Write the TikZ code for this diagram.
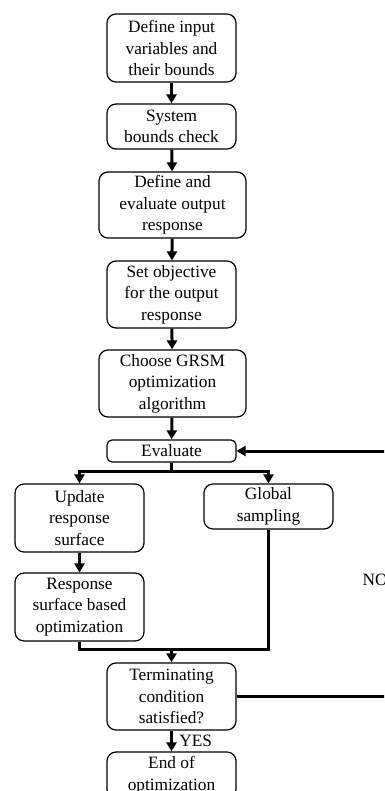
\documentclass[tikz,border=0pt]{standalone}
\usepackage{fontspec}
\setmainfont{Liberation Serif}
\usetikzlibrary{arrows.meta, positioning}

\begin{document}
\begin{tikzpicture}[x=1pt, y=-1pt,% pixel units, y down
         > = {Triangle[width=10pt,length=9pt]}, % defined in "arrows.meta
box/.style = {draw, line width=1.2pt, rounded corners=9pt,
              minimum width=129pt, inner sep=2pt, align=center,
              font=\fontsize{17.3}{21.5}\selectfont},
wide/.style = {box, minimum width=147pt},
flow/.style = {->, line width=3pt},
line/.style = {line width=3pt},
lbl/.style  = {font=\fontsize{17.3}{21.5}\selectfont}
                        ]
	\useasboundingbox (0,0) rectangle (384,791);
	\clip (0,0) rectangle (384,791);

	% main chain
	\node (inp)  [box, minimum height=68pt] at (171.5,48)  {Define input\\ variables and\\ their bounds};
	\node (chk)  [box, minimum height=45pt] at (171.5,126.5) {System\\ bounds check};
	\node (out)  [wide, minimum height=66pt] at (172.5,205) {Define and\\ evaluate output\\ response};
	\node (obj)  [box, minimum height=67pt] at (171.5,294.5) {Set objective\\ for the output\\ response};
	\node (alg)  [wide, minimum height=67pt] at (172.5,383.5) {Choose GRSM\\ optimization\\ algorithm};
	\node (eval) [box, rounded corners=5pt, minimum height=22pt] at (171.5,451) {Evaluate};

	% two branches
	\node (upd)  [box, minimum height=68pt] at (79.5,518)  {Update\\ response\\ surface};
	\node (glob) [box, minimum height=45pt] at (268.5,506.5) {Global\\ sampling};
	\node (rso)  [box, minimum height=68pt] at (79.5,607)  {Response\\ surface based\\ optimization};

	\node (term) [box, minimum height=67pt] at (171.5,696.5) {Terminating\\ condition\\ satisfied?};
	\node (end)  [box, minimum height=46pt] at (171.5,775) {End of\\ optimization};

	\coordinate (split) at (171.5,471);
	\coordinate (merge) at (171.5,649);
	\coordinate (back)  at (392,580);

	\draw [flow] (inp) -- (chk);
	\draw [flow] (chk) -- (out);
	\draw [flow] (out) -- (obj);
	\draw [flow] (obj) -- (alg);
	\draw [flow] (alg) -- (eval);

	\draw [line] (eval) -- (split);
	\draw [flow] (split) -| (upd);
	\draw [flow] (split) -| (glob);
	\draw [flow] (upd) -- (rso);

	\draw [line] (rso) |- (merge);
	\draw [line] (glob) |- (merge);
	\draw [flow] (merge) -- (term);

	% loop back
	\draw [flow] (term.east) -| (back) |- (eval.east);
	\node (no) [lbl, anchor=west] at (359,580) {NO};

	\draw [flow] (term) -- (end) node (yes) [lbl, midway, right=3pt] {YES};
\end{tikzpicture}
\end{document}
